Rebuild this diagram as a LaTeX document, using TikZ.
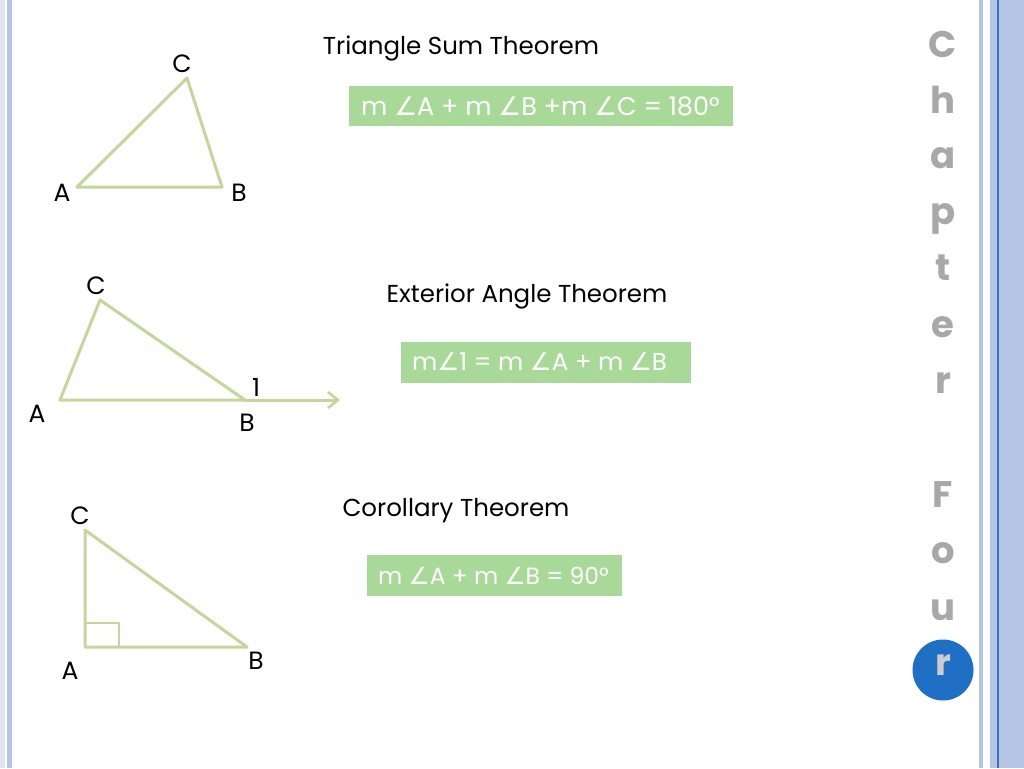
\documentclass[tikz,border=0pt]{standalone}
\usepackage{fontspec}
\setmainfont{Poppins}
\newfontfamily\symfont{DejaVu Sans}
\usetikzlibrary{arrows.meta}
\definecolor{triline}{HTML}{C4D79B}
\definecolor{eqfill}{HTML}{A9D998}
\definecolor{stripA}{HTML}{B4C5E6}
\definecolor{stripB}{HTML}{DFE6F2}
\definecolor{stripLine}{HTML}{3F6FBF}
\definecolor{chapgray}{HTML}{A8A8A8}
\definecolor{chaplight}{HTML}{CDCDCD}
\definecolor{circblue}{HTML}{1F6FC5}
\newcommand{\ang}{{\symfont ∠}}
\tikzset{
  tri/.style={draw=triline, line width=3pt, line join=round, line cap=round},
  lbl/.style={font=\fontsize{25}{28}\selectfont, inner sep=0pt},
  ttl/.style={font=\fontsize{24.5}{28}\selectfont, inner sep=0pt, anchor=base},
  eqbox/.style={fill=eqfill, draw=none, inner sep=0pt},
  eqtxt/.style={font=\fontsize{24.5}{28}\selectfont, text=white, inner sep=0pt, anchor=west},
  chap/.style={font=\fontsize{37}{40}\selectfont\bfseries, text=chapgray, inner sep=0pt, anchor=base}
}
\begin{document}
\begin{tikzpicture}[x=1pt,y=-1pt]
\useasboundingbox (0,0) rectangle (1024,768);
\fill[white] (0,0) rectangle (1024,768);
% side strips
\fill[stripB] (0,0) rectangle (5,768);
\fill[stripA] (7,0) rectangle (12,768);
\fill[stripA] (979,0) rectangle (983,768);
\fill[stripA] (990,0) rectangle (1024,768);
\fill[stripLine] (997.3,0) rectangle (999.2,768);

% ---------- Triangle 1 ----------
\coordinate (A1) at (77,187);
\coordinate (B1) at (222,187);
\coordinate (C1) at (187,78);
\draw[tri] (A1) -- (B1) -- (C1) -- cycle;
\node[lbl] (lC1) at (182,64) {C};
\node[lbl] (lA1) at (62,193) {A};
\node[lbl] (lB1) at (239,193) {B};

% ---------- Triangle 2 ----------
\coordinate (A2) at (60,400);
\coordinate (B2) at (245,400);
\coordinate (C2) at (100,300);
\coordinate (E2) at (340,400);
\draw[tri] (B2) -- (A2) -- (C2) -- cycle;
\draw[tri, -{Straight Barb[length=10pt,width=16pt,line width=2.6pt]}] (B2) -- (E2);
\node[lbl] (lC2) at (96,286) {C};
\node[lbl] (lA2) at (37,414) {A};
\node[lbl] (lB2) at (247,423) {B};
\node[lbl] (l12) at (256,387) {1};

% ---------- Triangle 3 ----------
\coordinate (A3) at (85,647);
\coordinate (B3) at (247,647);
\coordinate (C3) at (85,530);
\draw[tri] (A3) -- (B3) -- (C3) -- cycle;
\draw[tri, line width=2.4pt] (85,623) -- (119,623) -- (119,647);
\node[lbl] (lC3) at (80,516) {C};
\node[lbl] (lA3) at (70,671) {A};
\node[lbl] (lB3) at (256,661) {B};

% ---------- Titles ----------
\node[ttl] (t1) at (461,55) {Triangle Sum Theorem};
\node[ttl] (t2) at (527,302) {Exterior Angle Theorem};
\node[ttl] (t3) at (456,516) {Corollary Theorem};

% ---------- Equation boxes ----------
\node[eqbox, minimum width=384pt, minimum height=40pt] (box1) at (541,106) {};
\node[eqtxt, font=\fontsize{25.5}{28}\selectfont] (eq1) at (361,106) {m \ang A + m \ang B +m \ang C = 180°};
\node[eqbox, minimum width=290pt, minimum height=41pt] (box2) at (546,362) {};
\node[eqtxt] (eq2) at (412,362) {m\ang 1 = m \ang A + m \ang B};
\node[eqbox, minimum width=255pt, minimum height=41pt] (box3) at (494.5,575.5) {};
\node[eqtxt, font=\fontsize{23.5}{28}\selectfont] (eq3) at (378,576) {m \ang A + m \ang B = 90°};

% ---------- Chapter Four ----------
\node[circle, fill=circblue, minimum size=61pt, inner sep=0pt] (circ) at (943,670) {};
\node[chap] (ch1) at (943,57) {C};
\node[chap] (ch2) at (943,113) {h};
\node[chap] (ch3) at (943,168) {a};
\node[chap] (ch4) at (943,224) {p};
\node[chap] (ch5) at (943,280) {t};
\node[chap] (ch6) at (943,337) {e};
\node[chap] (ch7) at (943,393) {r};
\node[chap] (ch8) at (943,507) {F};
\node[chap] (ch9) at (943,563) {o};
\node[chap] (ch10) at (943,620) {u};
\node[chap, text=chaplight] (ch11) at (943,675) {r};
\end{tikzpicture}
\end{document}
